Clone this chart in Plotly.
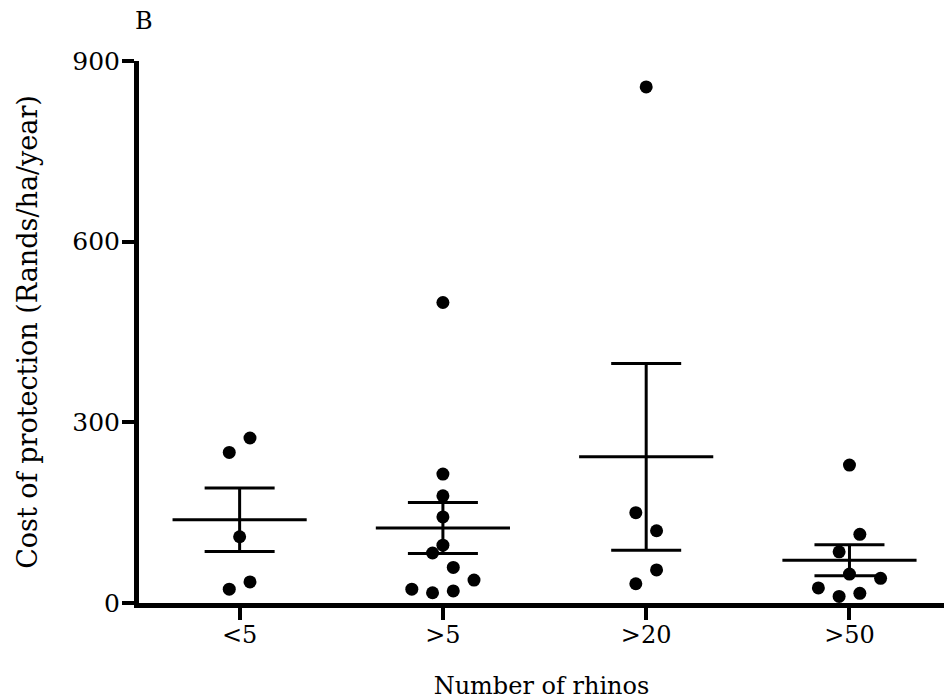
import numpy as np
import plotly.graph_objects as go

# ---- data ----
categories = ["<5", ">5", ">20", ">50"]
cost_lt5 = [274, 250, 110, 35, 23]
cost_gt5 = [499, 214, 178, 143, 96, 83, 59, 38, 23, 17, 20]
cost_gt20 = [857, 150, 120, 55, 32]
cost_gt50 = [229, 114, 85, 48, 41, 25, 11, 16]
# horizontal scatter slot of each point (column-scatter layout)
slot_lt5 = [0.5, -0.5, 0, 0.5, -0.5]
slot_gt5 = [0, 0, 0, 0, 0, -0.5, 0.5, 1.5, -1.5, -0.5, 0.5]
slot_gt20 = [0, -0.5, 0.5, 0.5, -0.5]
slot_gt50 = [0, 0.5, -0.5, 0, 1.5, -1.5, -0.5, 0.5]
y_ticks = [0, 300, 600, 900]

groups = [cost_lt5, cost_gt5, cost_gt20, cost_gt50]
slots = [slot_lt5, slot_gt5, slot_gt20, slot_gt50]

FONT = "DejaVu Serif"
SLOT_W = 0.102
MEAN_HALF = 0.33

fig = go.Figure()

# mean lines
mx, my = [], []
means, sems = [], []
for i, vals in enumerate(groups):
    v = np.array(vals, dtype=float)
    m = v.mean()
    s = v.std(ddof=1) / np.sqrt(len(v))
    means.append(m)
    sems.append(s)
    mx += [i - MEAN_HALF, i + MEAN_HALF, None]
    my += [m, m, None]

fig.add_trace(go.Scatter(x=mx, y=my, mode="lines",
                         line=dict(color="black", width=3),
                         hoverinfo="skip", showlegend=False))

# SEM error bars
fig.add_trace(go.Scatter(x=list(range(len(categories))), y=means, mode="markers",
                         marker=dict(size=1, color="rgba(0,0,0,0)"),
                         error_y=dict(type="data", array=sems, visible=True,
                                      color="black", thickness=3, width=35),
                         hoverinfo="skip", showlegend=False))

# points
px, py = [], []
for i, (vals, sl) in enumerate(zip(groups, slots)):
    for v, s in zip(vals, sl):
        px.append(i + s * SLOT_W)
        py.append(v)
fig.add_trace(go.Scatter(x=px, y=py, mode="markers",
                         marker=dict(size=13, color="black"),
                         cliponaxis=False, showlegend=False))

fig.update_layout(
    width=944, height=700,
    margin=dict(l=139, r=0, t=61, b=97, autoexpand=False),
    paper_bgcolor="white", plot_bgcolor="white",
    font=dict(family=FONT, color="black", size=24),
    xaxis=dict(
        range=[-0.495, 3.465], automargin=False,
        tickmode="array", tickvals=list(range(len(categories))), ticktext=categories,
        showline=True, linecolor="black", linewidth=5,
        ticks="outside", ticklen=12, tickwidth=4, tickcolor="black",
        showgrid=False, zeroline=False,
        tickfont=dict(family=FONT, size=24), ticklabelstandoff=-6,
        title=dict(text="Number of rhinos", font=dict(family=FONT, size=24), standoff=31),
    ),
    yaxis=dict(
        range=[0, 900], automargin=False,
        tickmode="array", tickvals=y_ticks, ticktext=[str(t) for t in y_ticks],
        showline=True, linecolor="black", linewidth=5,
        ticks="outside", ticklen=12, tickwidth=4, tickcolor="black",
        showgrid=False, zeroline=False,
        tickfont=dict(family=FONT, size=25), ticklabelstandoff=-3,
        title=dict(text="Cost of protection (Rands/ha/year)", font=dict(family=FONT, size=27), standoff=28),
    ),
    annotations=[dict(text="B", xref="paper", yref="paper", x=0.0056, y=1.0738,
                      xanchor="center", yanchor="middle", showarrow=False,
                      font=dict(family=FONT, size=24))],
)

fig.write_html("out.html", config={"displayModeBar": False},
               post_script="document.body.style.margin='0px';")
